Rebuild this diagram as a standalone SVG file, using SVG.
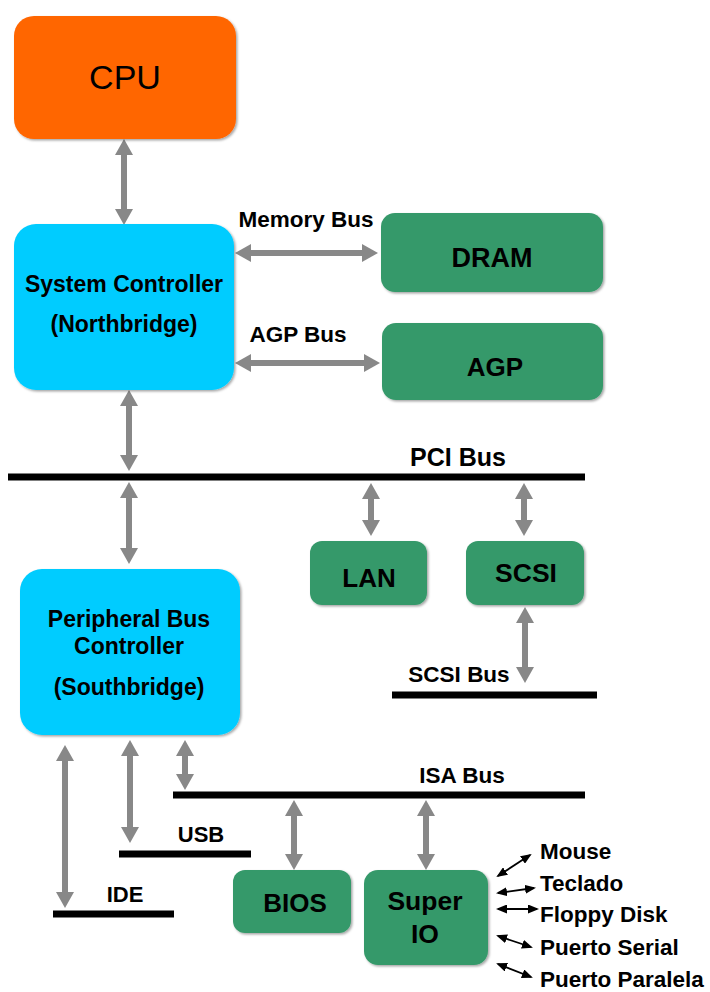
<svg xmlns="http://www.w3.org/2000/svg" width="710" height="992" viewBox="0 0 710 992">
  <style>
    .lbl { font-family: "Liberation Sans", Arial, Helvetica, sans-serif; font-weight: bold; fill: #000; }
    .mid { text-anchor: middle; }
    .box { filter: url(#shadow); }
    .cpu { fill: #FF6600; }
    .ctl { fill: #00CCFF; }
    .dev { fill: #36996A; }
    .bus { stroke: #000; stroke-width: 7; }
    .link { stroke: #888; stroke-width: 6; fill: none; marker-start: url(#gh); marker-end: url(#gh); }
    .port { stroke: #000; stroke-width: 1.8; fill: none; marker-start: url(#bh); marker-end: url(#bh); }
  </style>
  <defs>
    <filter id="shadow" x="-5%" y="-5%" width="115%" height="115%">
      <feDropShadow dx="1.5" dy="1.5" stdDeviation="1" flood-color="#000" flood-opacity="0.35"/>
    </filter>
    <!-- grey double arrowheads for bus links -->
    <marker id="gh" markerUnits="userSpaceOnUse" viewBox="0 0 16 18" markerWidth="16" markerHeight="18" refX="8" refY="9" orient="auto-start-reverse">
      <path d="M0,0 L16,9 L0,18 Z" fill="#888"/>
    </marker>
    <!-- small black heads for Super IO ports -->
    <marker id="bh" markerUnits="userSpaceOnUse" viewBox="0 0 11 9" markerWidth="11" markerHeight="9" refX="9" refY="4.5" orient="auto-start-reverse">
      <path d="M0,0 L11,4.5 L0,9 Z" fill="#000"/>
    </marker>
  </defs>

  <rect width="710" height="992" fill="#fff"/>

  <!-- buses -->
  <g id="buses">
    <line class="bus" x1="8" y1="477" x2="585" y2="477"/>
    <line class="bus" x1="392" y1="695" x2="597" y2="695"/>
    <line class="bus" x1="173" y1="795" x2="585" y2="795"/>
    <line class="bus" x1="119" y1="854" x2="251" y2="854"/>
    <line class="bus" x1="53" y1="914" x2="174" y2="914"/>
    <text class="lbl mid" x="458" y="466" font-size="25">PCI Bus</text>
    <text class="lbl mid" x="459" y="682" font-size="22.5">SCSI Bus</text>
    <text class="lbl mid" x="462" y="783" font-size="22.5">ISA Bus</text>
    <text class="lbl mid" x="201" y="842" font-size="22">USB</text>
    <text class="lbl mid" x="125" y="902" font-size="22">IDE</text>
    <text class="lbl mid" x="306" y="227" font-size="22.5">Memory Bus</text>
    <text class="lbl mid" x="298" y="342" font-size="22.5">AGP Bus</text>
  </g>

  <!-- connectors -->
  <g id="connectors">
    <line class="link" x1="124" y1="147" x2="124" y2="217"/>
    <line class="link" x1="243" y1="253" x2="370" y2="253"/>
    <line class="link" x1="243" y1="363" x2="372" y2="363"/>
    <line class="link" x1="129" y1="398" x2="129" y2="463"/>
    <line class="link" x1="129" y1="490" x2="129" y2="556"/>
    <line class="link" x1="371" y1="491" x2="371" y2="528"/>
    <line class="link" x1="524" y1="491" x2="524" y2="528"/>
    <line class="link" x1="525" y1="615" x2="525" y2="675"/>
    <line class="link" x1="65" y1="753" x2="65" y2="900"/>
    <line class="link" x1="130" y1="748" x2="130" y2="835"/>
    <line class="link" x1="185" y1="748" x2="185" y2="782"/>
    <line class="link" x1="294" y1="808" x2="294" y2="862"/>
    <line class="link" x1="426" y1="808" x2="426" y2="862"/>
    <line class="port" x1="498" y1="876" x2="530" y2="855"/>
    <line class="port" x1="498" y1="893" x2="534" y2="888"/>
    <line class="port" x1="498" y1="909" x2="537" y2="909"/>
    <line class="port" x1="498" y1="936" x2="531" y2="947"/>
    <line class="port" x1="498" y1="964" x2="531" y2="977"/>
  </g>

  <g id="cpu">
    <rect class="box cpu" x="14" y="16" width="222" height="123" rx="20"/>
    <text x="125" y="89" font-family="Liberation Sans, Arial, sans-serif" font-size="34" text-anchor="middle" fill="#000">CPU</text>
  </g>

  <g id="northbridge">
    <rect class="box ctl" x="14" y="224" width="220" height="166" rx="22"/>
    <text class="lbl mid" x="124" y="292" font-size="23">System Controller</text>
    <text class="lbl mid" x="124" y="332" font-size="23">(Northbridge)</text>
  </g>

  <g id="dram">
    <rect class="box dev" x="381" y="213" width="222" height="79" rx="14"/>
    <text class="lbl mid" x="492" y="267" font-size="27">DRAM</text>
  </g>

  <g id="agp">
    <rect class="box dev" x="382" y="323" width="221" height="77" rx="14"/>
    <text class="lbl mid" x="495" y="376" font-size="26">AGP</text>
  </g>

  <g id="lan">
    <rect class="box dev" x="310" y="541" width="117" height="64" rx="12"/>
    <text class="lbl mid" x="369" y="587" font-size="26">LAN</text>
  </g>

  <g id="scsi">
    <rect class="box dev" x="466" y="541" width="118" height="64" rx="12"/>
    <text class="lbl mid" x="526" y="582" font-size="26.5">SCSI</text>
  </g>

  <g id="southbridge">
    <rect class="box ctl" x="20" y="569" width="220" height="166" rx="22"/>
    <text class="lbl mid" x="129" y="627" font-size="23">Peripheral Bus</text>
    <text class="lbl mid" x="129" y="654" font-size="23">Controller</text>
    <text class="lbl mid" x="129" y="695" font-size="23">(Southbridge)</text>
  </g>

  <g id="bios">
    <rect class="box dev" x="233" y="870" width="118" height="63" rx="12"/>
    <text class="lbl mid" x="295" y="912" font-size="26">BIOS</text>
  </g>

  <g id="superio">
    <rect class="box dev" x="364" y="870" width="124" height="95" rx="14"/>
    <text class="lbl mid" x="425" y="910" font-size="26.5">Super</text>
    <text class="lbl mid" x="425" y="943" font-size="26.5">IO</text>
  </g>

  <g id="ports">
    <text class="lbl" x="540" y="859" font-size="22.5">Mouse</text>
    <text class="lbl" x="540" y="891" font-size="22.5">Teclado</text>
    <text class="lbl" x="540" y="922" font-size="22.5">Floppy Disk</text>
    <text class="lbl" x="540" y="955" font-size="22.5">Puerto Serial</text>
    <text class="lbl" x="540" y="987" font-size="22.5">Puerto Paralela</text>
  </g>
</svg>
